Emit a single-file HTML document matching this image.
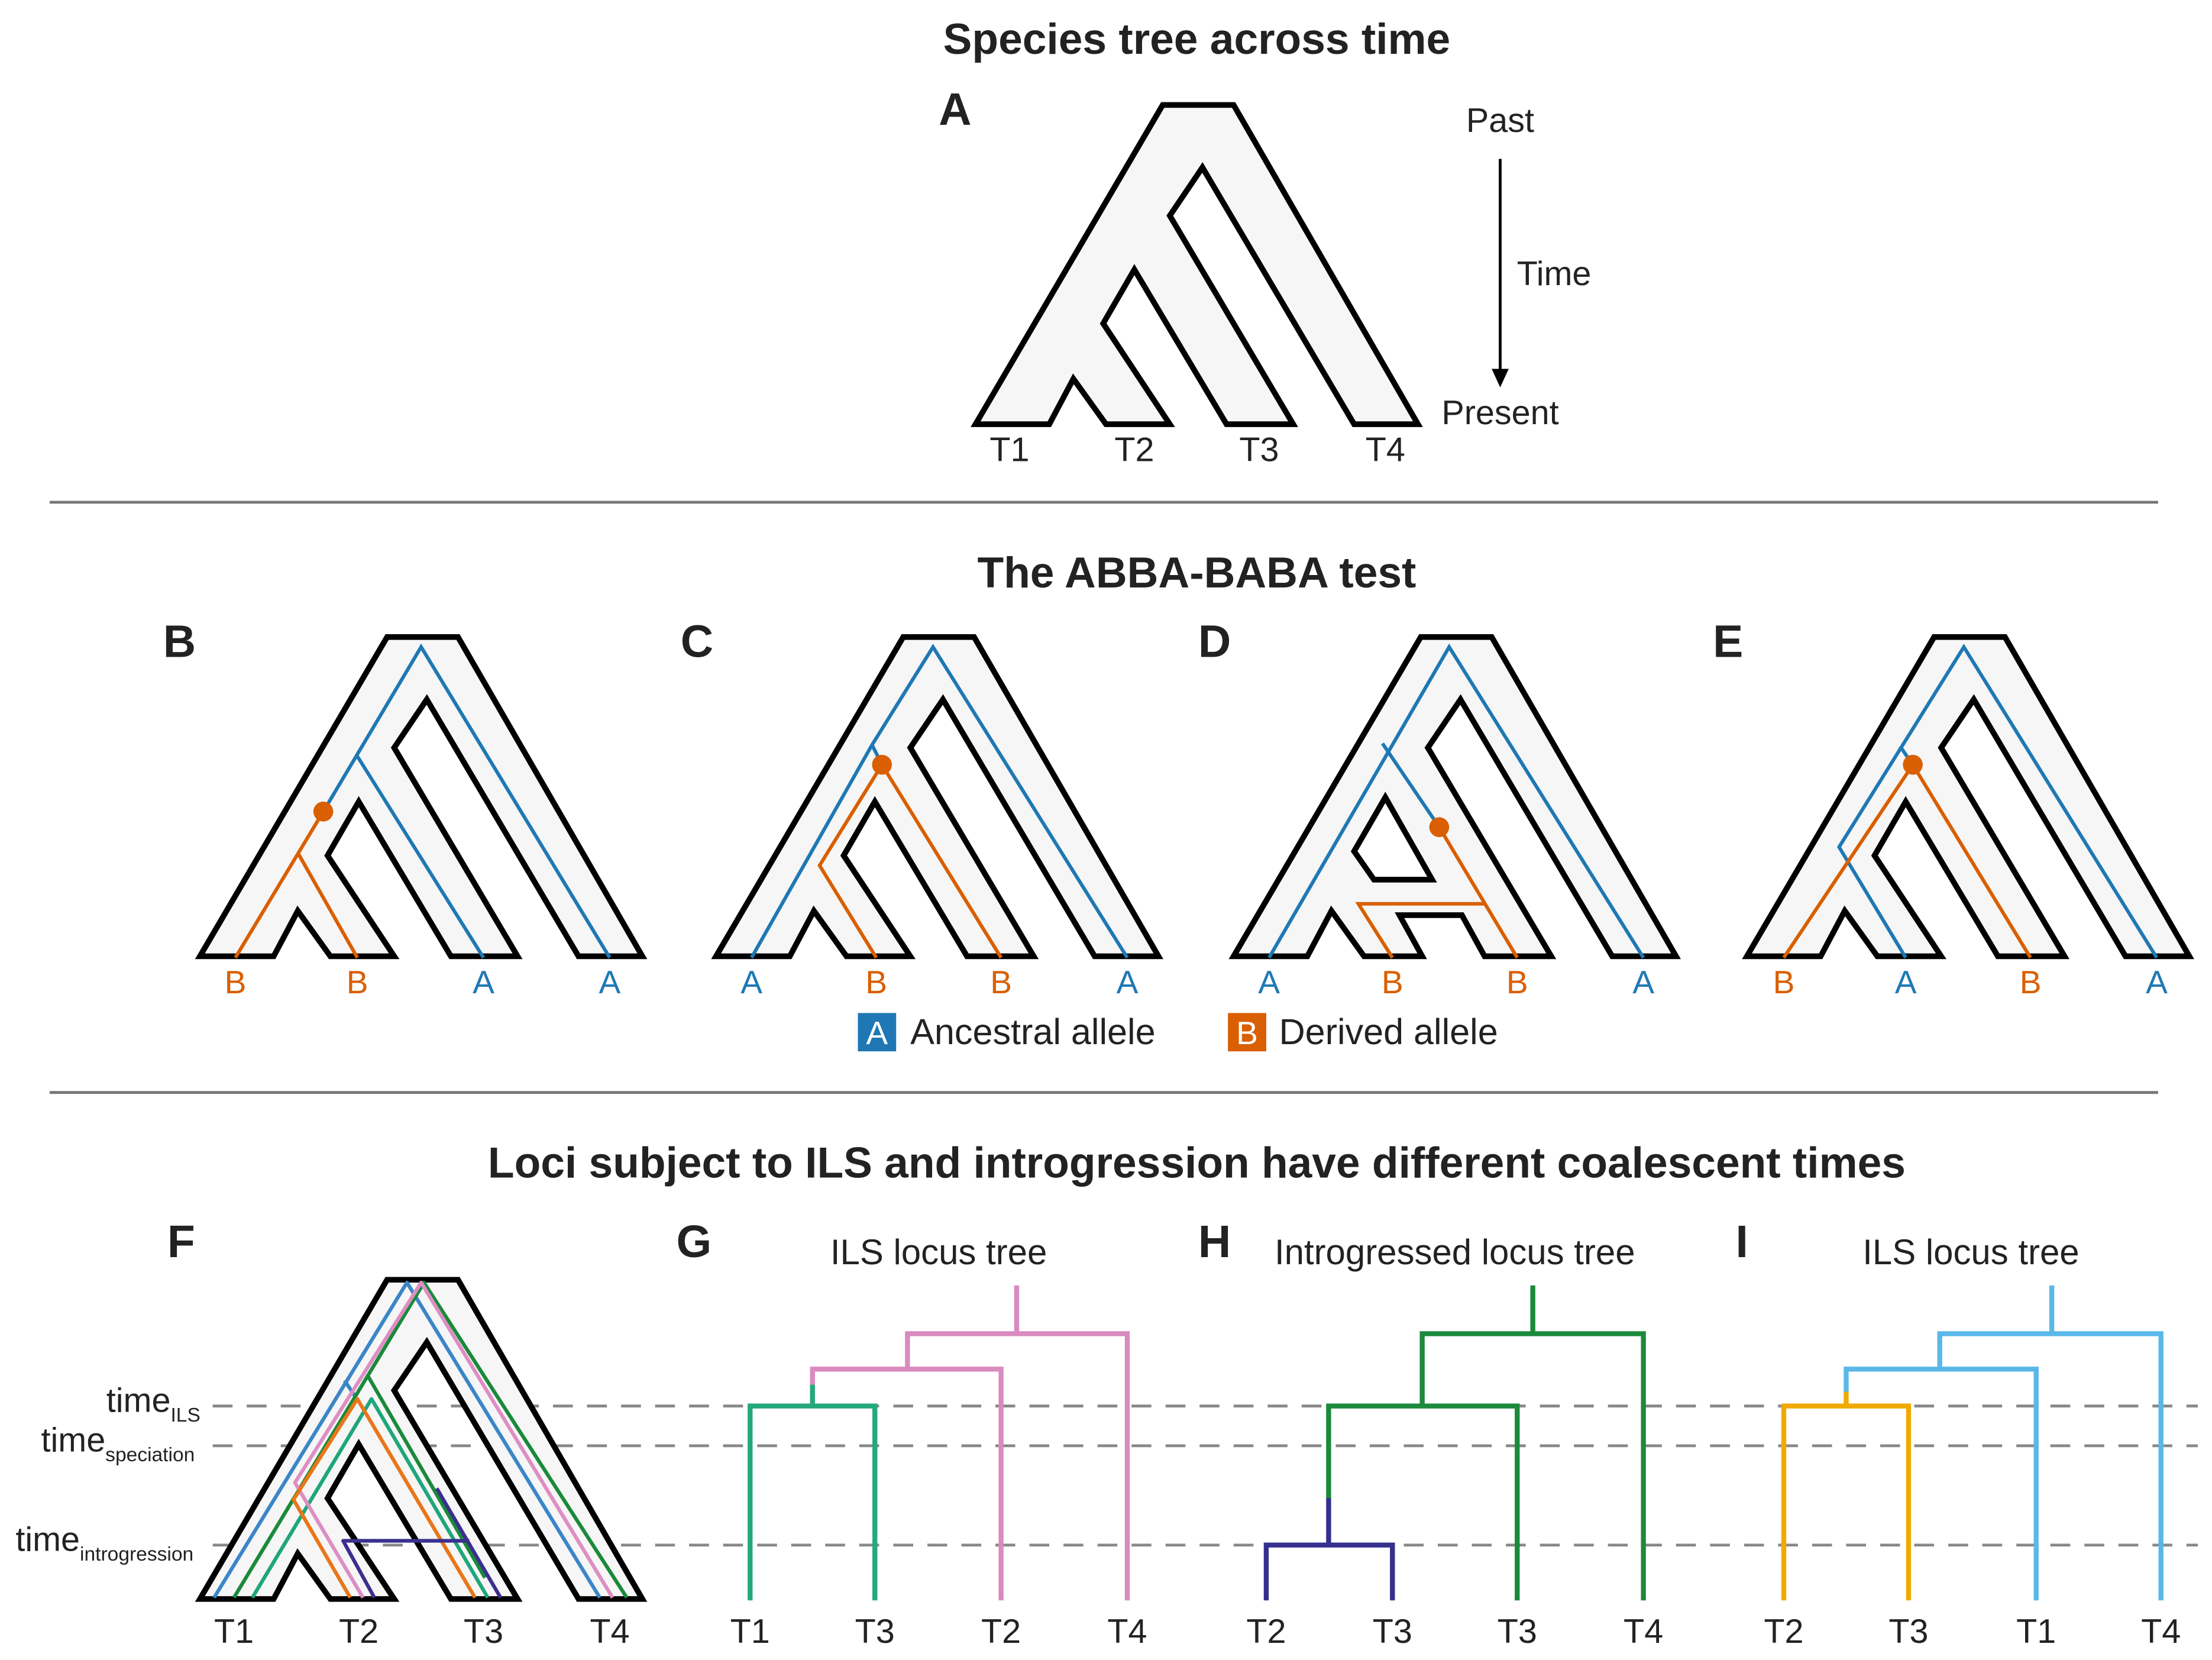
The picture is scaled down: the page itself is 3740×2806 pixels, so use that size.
<!DOCTYPE html>
<html><head><meta charset="utf-8"><style>
html,body{margin:0;padding:0;background:#fff;}
svg{display:block;}
text{font-family:"Liberation Sans",sans-serif;}
</style></head><body>
<svg width="3740" height="2806" viewBox="0 0 1560 1170" preserveAspectRatio="none" xmlns="http://www.w3.org/2000/svg">
<defs>
<polygon id="tree" points="0,225 132,0 182,0 312,225 267,225 160,44 137,78 224,225 177,225 112,116 90,154 137,225 92,225 69,193 52,225" fill="#f6f6f6" stroke="#000" stroke-width="4" stroke-linejoin="miter"/>
</defs>
<rect width="1560" height="1170" fill="#fff"/>
<!-- titles -->
<text x="844" y="38" font-size="30.5" font-weight="bold" text-anchor="middle" fill="#222">Species tree across time</text>
<text x="844" y="414" font-size="30.5" font-weight="bold" text-anchor="middle" fill="#222">The ABBA-BABA test</text>
<text x="844" y="830" font-size="30.5" font-weight="bold" text-anchor="middle" fill="#222">Loci subject to ILS and introgression have different coalescent times</text>
<line x1="35" y1="354" x2="1522" y2="354" stroke="#777" stroke-width="2"/>
<line x1="35" y1="770" x2="1522" y2="770" stroke="#777" stroke-width="2"/>
<g font-size="32" font-weight="bold" fill="#222">
<text x="662" y="88">A</text><text x="115" y="463">B</text><text x="480" y="463">C</text><text x="845" y="463">D</text><text x="1208" y="463">E</text>
<text x="118" y="886">F</text><text x="477" y="886">G</text><text x="845" y="886">H</text><text x="1224" y="886">I</text>
</g>
<!-- A -->
<use href="#tree" transform="translate(688,74)"/>
<g font-size="24" fill="#222" text-anchor="middle">
<text x="712" y="325">T1</text><text x="800" y="325">T2</text><text x="888" y="325">T3</text><text x="977" y="325">T4</text>
<text x="1058" y="93">Past</text><text x="1096" y="201">Time</text><text x="1058" y="299">Present</text>
</g>
<line x1="1058" y1="112" x2="1058" y2="262" stroke="#000" stroke-width="2"/>
<polygon points="1052,260 1064,260 1058,273" fill="#000"/>
<!-- B -->
<use href="#tree" transform="translate(141,449)"/>
<g fill="none" stroke="#1f78b4" stroke-width="2.5">
<polyline points="430,675 297,456 228,572"/><line x1="252" y1="533" x2="341" y2="675"/>
</g>
<g fill="none" stroke="#d95f02" stroke-width="2.5"><polyline points="166,675 228,572"/><line x1="210" y1="601" x2="252" y2="675"/></g>
<circle cx="228" cy="572" r="7" fill="#d95f02"/>
<!-- C -->
<use href="#tree" transform="translate(505,449)"/>
<g fill="none" stroke="#1f78b4" stroke-width="2.5"><polyline points="530,675 615,525 658,456 795,675"/><line x1="615" y1="525" x2="622" y2="539"/></g>
<g fill="none" stroke="#d95f02" stroke-width="2.5"><polyline points="706,675 622,539 578,610 618,675"/></g>
<circle cx="622" cy="539" r="7" fill="#d95f02"/>
<!-- D -->
<g transform="translate(870,449)">
<polygon points="0,225 132,0 182,0 312,225 267,225 160,44 137,78 224,225 177,225 161,196 117,196 133,225 92,225 69,193 52,225" fill="#f6f6f6" stroke="#000" stroke-width="4"/>
<polygon points="107,113 85,151 99,171 140,171" fill="#fff" stroke="#000" stroke-width="4"/>
</g>
<g fill="none" stroke="#1f78b4" stroke-width="2.5"><polyline points="895,675 1022,456 1159,675"/><polyline points="975,524 1015,583"/></g>
<g fill="none" stroke="#d95f02" stroke-width="2.5"><polyline points="1015,583 1070,675"/><polyline points="1047,637 958,637 982,675"/></g>
<circle cx="1015" cy="583" r="7" fill="#d95f02"/>
<!-- E -->
<use href="#tree" transform="translate(1232,449)"/>
<g fill="none" stroke="#1f78b4" stroke-width="2.5"><polyline points="1344,675 1297,597 1385,456 1521,675"/><line x1="1340" y1="526" x2="1349" y2="539"/></g>
<g fill="none" stroke="#d95f02" stroke-width="2.5"><polyline points="1258,675 1349,539 1432,675"/></g>
<circle cx="1349" cy="539" r="7" fill="#d95f02"/>
<!-- tip letters -->
<g font-size="23" text-anchor="middle">
<text x="166" y="700" fill="#d95f02">B</text><text x="252" y="700" fill="#d95f02">B</text><text x="341" y="700" fill="#1f78b4">A</text><text x="430" y="700" fill="#1f78b4">A</text>
<text x="530" y="700" fill="#1f78b4">A</text><text x="618" y="700" fill="#d95f02">B</text><text x="706" y="700" fill="#d95f02">B</text><text x="795" y="700" fill="#1f78b4">A</text>
<text x="895" y="700" fill="#1f78b4">A</text><text x="982" y="700" fill="#d95f02">B</text><text x="1070" y="700" fill="#d95f02">B</text><text x="1159" y="700" fill="#1f78b4">A</text>
<text x="1258" y="700" fill="#d95f02">B</text><text x="1344" y="700" fill="#1f78b4">A</text><text x="1432" y="700" fill="#d95f02">B</text><text x="1521" y="700" fill="#1f78b4">A</text>
</g>
<!-- legend -->
<rect x="605" y="714" width="27" height="27" fill="#1f78b4"/><text x="618.5" y="736" font-size="23" fill="#fff" text-anchor="middle">A</text>
<text x="642" y="736" font-size="25.5" fill="#222">Ancestral allele</text>
<rect x="866" y="714" width="27" height="27" fill="#d95f02"/><text x="879.5" y="736" font-size="23" fill="#fff" text-anchor="middle">B</text>
<text x="902" y="736" font-size="25.5" fill="#222">Derived allele</text>
<!-- dashed lines -->
<g stroke="#888" stroke-width="2" stroke-dasharray="14,10">
<line x1="150" y1="991" x2="1550" y2="991"/><line x1="150" y1="1019" x2="1550" y2="1019"/><line x1="150" y1="1089" x2="1550" y2="1089"/>
</g>
<g fill="#222" font-size="24">
<text x="75" y="995">time<tspan font-size="14" dy="7">ILS</tspan></text>
<text x="29" y="1023">time<tspan font-size="14" dy="7">speciation</tspan></text>
<text x="11" y="1093">time<tspan font-size="14" dy="7">introgression</tspan></text>
</g>
<!-- F -->
<use href="#tree" transform="translate(141,902)"/>
<g fill="none" stroke-width="2.6" stroke-linejoin="round">
<polyline stroke="#3a86c8" points="151,1126 287,904 423,1126"/>
<line stroke="#3a86c8" x1="243" y1="973" x2="251" y2="985"/>
<polyline stroke="#1a8a3a" points="165,1126 299,904 442,1126"/>
<line stroke="#1a8a3a" x1="259" y1="969" x2="342" y2="1112"/>
<polyline stroke="#1fa67a" points="178,1126 262,986 344,1126"/>
<polyline stroke="#dd8ec3" points="256,1126 208,1045 297,904 432,1126"/>
<polyline stroke="#e8761a" points="247,1126 207,1057 252,986 335,1126"/>
<polyline stroke="#3b2f8f" points="264,1126 242,1086 331,1086"/>
<line stroke="#3b2f8f" x1="308" y1="1049" x2="353" y2="1126"/>
</g>
<g font-size="24" fill="#222" text-anchor="middle">
<text x="165" y="1158">T1</text><text x="253" y="1158">T2</text><text x="341" y="1158">T3</text><text x="430" y="1158">T4</text>
<text x="529" y="1158">T1</text><text x="617" y="1158">T3</text><text x="706" y="1158">T2</text><text x="795" y="1158">T4</text>
<text x="893" y="1158">T2</text><text x="982" y="1158">T3</text><text x="1070" y="1158">T3</text><text x="1159" y="1158">T4</text>
<text x="1258" y="1158">T2</text><text x="1346" y="1158">T3</text><text x="1436" y="1158">T1</text><text x="1524" y="1158">T4</text>
</g>
<g font-size="25" fill="#222" text-anchor="middle">
<text x="662" y="891">ILS locus tree</text><text x="1026" y="891">Introgressed locus tree</text><text x="1390" y="891">ILS locus tree</text>
</g>
<!-- G -->
<g fill="none" stroke-width="3.5">
<polyline stroke="#24a87c" points="529,1128 529,991 617,991 617,1128"/>
<line stroke="#24a87c" x1="573" y1="991" x2="573" y2="975"/>
<polyline stroke="#d98bbf" points="573,976 573,965 706,965 706,1128"/>
<polyline stroke="#d98bbf" points="640,965 640,940 795,940 795,1128"/>
<line stroke="#d98bbf" x1="717" y1="940" x2="717" y2="906"/>
</g>
<!-- H -->
<g fill="none" stroke-width="3.5">
<polyline stroke="#35308e" points="893,1128 893,1089 982,1089 982,1128"/>
<line stroke="#35308e" x1="937" y1="1089" x2="937" y2="1055"/>
<polyline stroke="#1c8a3c" points="937,1056 937,991 1070,991 1070,1128"/>
<polyline stroke="#1c8a3c" points="1003,991 1003,940 1159,940 1159,1128"/>
<line stroke="#1c8a3c" x1="1081" y1="940" x2="1081" y2="906"/>
</g>
<!-- I -->
<g fill="none" stroke-width="3.5">
<polyline stroke="#f0aa00" points="1258,1128 1258,991 1346,991 1346,1128"/>
<line stroke="#f0aa00" x1="1302" y1="991" x2="1302" y2="980"/>
<polyline stroke="#5ab8e8" points="1302,981 1302,965 1436,965 1436,1128"/>
<polyline stroke="#5ab8e8" points="1368,965 1368,940 1524,940 1524,1128"/>
<line stroke="#5ab8e8" x1="1447" y1="940" x2="1447" y2="906"/>
</g>
</svg>
</body></html>
